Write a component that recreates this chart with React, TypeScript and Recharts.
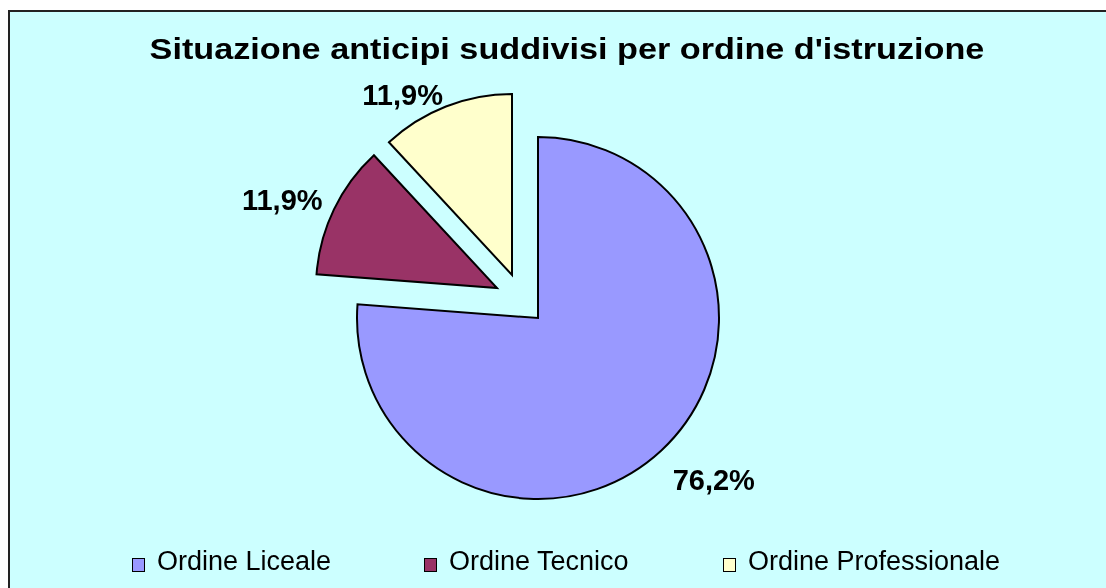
import { Cell, Pie, PieChart } from "recharts";

const categories = ["Ordine Liceale", "Ordine Tecnico", "Ordine Professionale"];
const shares = [76.2, 11.9, 11.9];
const colors = ["#9999FF", "#993366", "#FFFFCC"];

// exploded offset of each slice from the pie centre, and label placement tweaks
const explode = [
  { dx: 0, dy: 0 },
  { dx: -41, dy: -30 },
  { dx: -26, dy: -43 },
];
const labelPlace = [
  { r: 239, turn: 4.5 },
  { r: 232, turn: 3.5 },
  { r: 211, turn: 9.8 },
];

const W = 1096;
const H = 576;
const CX = 528;
const CY = 306;
const R = 181;
const RADIAN = Math.PI / 180;
const FONT = "'Liberation Sans', Arial, sans-serif";

const data = categories.map((name, i) => ({ name, value: shares[i] }));

const formatPct = (v: number) => `${v.toFixed(1).replace(".", ",")}%`;

const App = () => {
  return (
    <div
      style={{
        position: "fixed",
        left: 8,
        top: 10,
        width: 1098,
        height: 578,
        boxSizing: "border-box",
        borderLeft: "2px solid #222",
        borderTop: "2px solid #222",
        background: "#CCFFFF",
        fontFamily: FONT,
      }}
    >
      <div
        style={{
          position: "absolute",
          left: 8.5,
          top: 22,
          width: W,
          textAlign: "center",
          fontSize: 30,
          lineHeight: "30px",
          fontWeight: "bold",
          color: "#000",
          transform: "scaleX(1.14)",
          transformOrigin: "center",
          whiteSpace: "nowrap",
        }}
      >
        Situazione anticipi suddivisi per ordine d'istruzione
      </div>

      <div style={{ position: "absolute", left: 0, top: 0 }}>
        <PieChart width={W} height={H} margin={{ top: 0, right: 0, bottom: 0, left: 0 }}>
          {categories.map((_, k) => (
            <Pie
              key={k}
              data={data}
              dataKey="value"
              nameKey="name"
              cx={CX + explode[k].dx}
              cy={CY + explode[k].dy}
              innerRadius={0}
              outerRadius={R}
              startAngle={90}
              endAngle={-270}
              isAnimationActive={false}
              labelLine={false}
              label={(props: any) => {
                if (props.index !== k) return null;
                const a = (props.midAngle + labelPlace[k].turn) * RADIAN;
                const x = props.cx + labelPlace[k].r * Math.cos(-a);
                const y = props.cy + labelPlace[k].r * Math.sin(-a);
                return (
                  <text
                    x={x}
                    y={y}
                    textAnchor="middle"
                    dominantBaseline="central"
                    fill="#000"
                    fontFamily={FONT}
                    fontSize={29}
                    fontWeight="bold"
                  >
                    {formatPct(shares[k])}
                  </text>
                );
              }}
            >
              {data.map((_, i) => (
                <Cell
                  key={i}
                  fill={i === k ? colors[i] : "none"}
                  stroke={i === k ? "#000" : "none"}
                  strokeWidth={2}
                />
              ))}
            </Pie>
          ))}
        </PieChart>
      </div>

      {categories.map((name, i) => (
        <div
          key={name}
          style={{
            position: "absolute",
            left: [122, 414, 713][i],
            top: 536,
            display: "flex",
            alignItems: "center",
            whiteSpace: "nowrap",
          }}
        >
          <span
            style={{
              display: "inline-block",
              width: 11,
              height: 12,
              background: colors[i],
              border: "1.5px solid #000",
              marginRight: 12,
              marginTop: 6,
            }}
          />
          <span style={{ fontSize: 27, lineHeight: "27px", color: "#000" }}>{name}</span>
        </div>
      ))}
    </div>
  );
};

export default App;
